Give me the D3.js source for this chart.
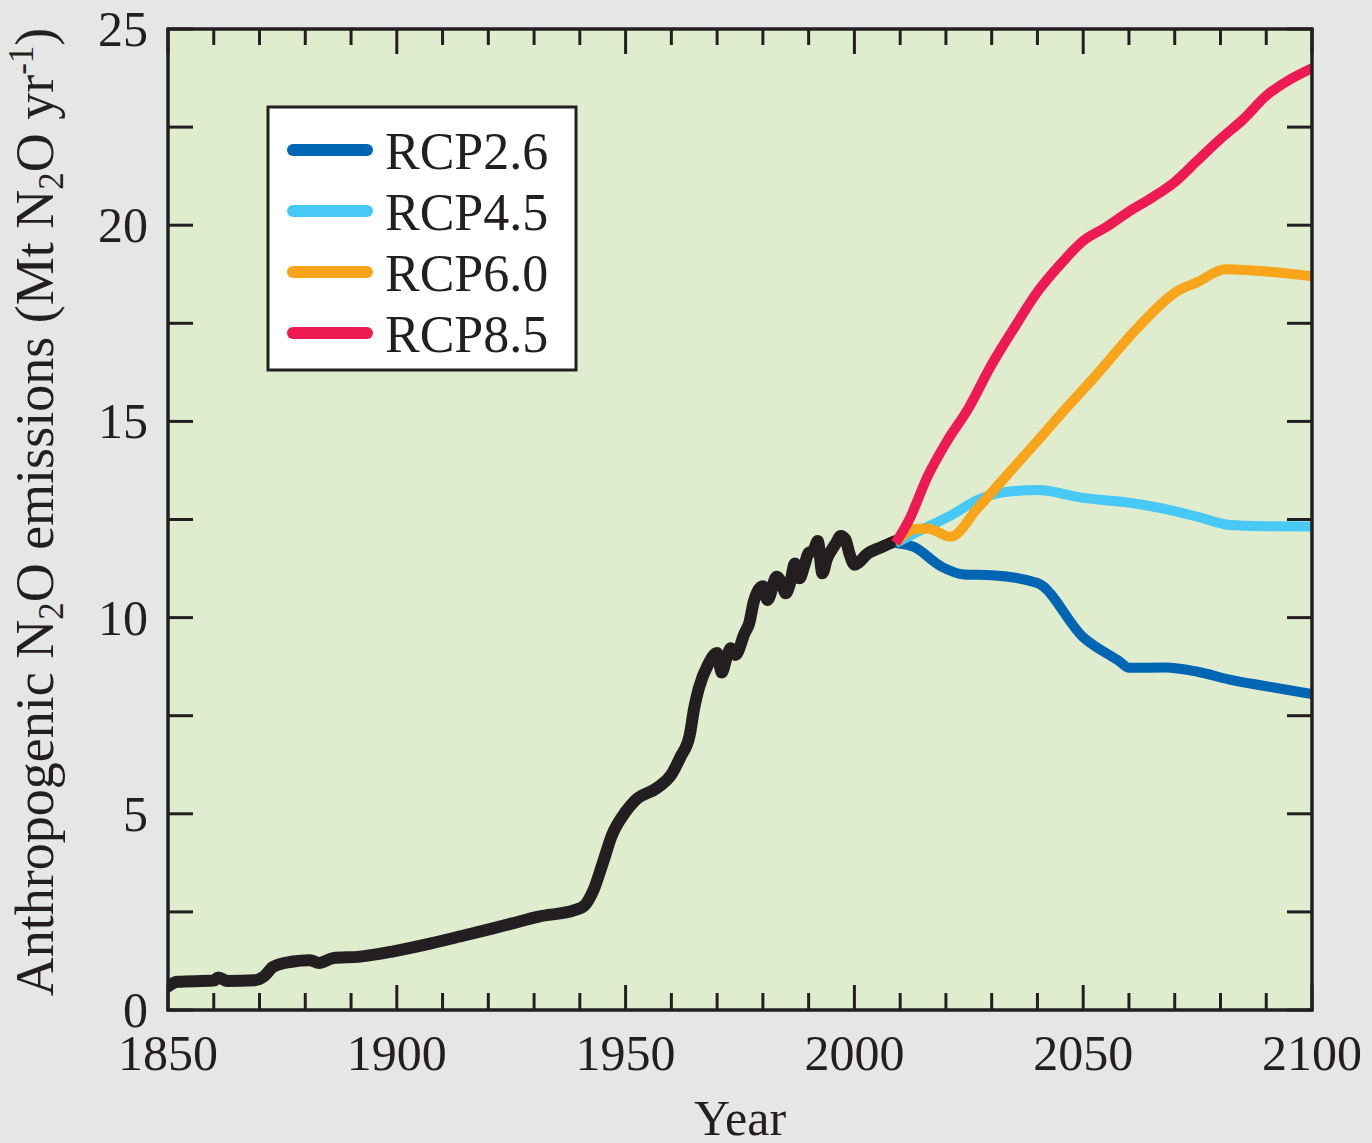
<!DOCTYPE html>
<html>
<head>
<meta charset="utf-8">
<script src="https://cdn.jsdelivr.net/npm/d3@7"></script>
<style>
  body { margin: 0; background: #e6e6e6; }
  svg { display: block; }
  text { font-family: "Liberation Serif", "Times New Roman", serif; fill: #231f20; }
</style>
</head>
<body>
<svg width="1372" height="1143"></svg>
<script>
// historical emissions (black line)
var histYears = [1850, 1852, 1860, 1861, 1863, 1869, 1871, 1873, 1877, 1881, 1883, 1886, 1892, 1899,
  1906, 1914, 1921, 1925, 1931, 1939, 1941, 1943, 1945, 1947, 1950, 1952, 1957, 1960, 1962, 1964,
  1965, 1966, 1968, 1970, 1971, 1972, 1973, 1974, 1976, 1977, 1978, 1979, 1980, 1981, 1983, 1984,
  1985, 1986, 1987, 1988, 1989, 1990, 1991, 1992, 1993, 1994, 1995, 1996, 1997, 1998, 1999, 2000,
  2003, 2006, 2009];
var histValues = [0.6, 0.72, 0.75, 0.83, 0.74, 0.76, 0.86, 1.1, 1.23, 1.27, 1.2, 1.32, 1.36, 1.49,
  1.66, 1.88, 2.08, 2.2, 2.38, 2.55, 2.66, 3.06, 3.74, 4.45, 5.05, 5.33, 5.67, 6.0, 6.45, 7.0,
  7.7, 8.2, 8.8, 9.1, 8.6, 8.95, 9.22, 9.05, 9.6, 9.85, 10.4, 10.7, 10.8, 10.45, 11.04, 10.9,
  10.62, 10.9, 11.38, 11.0, 11.3, 11.65, 11.7, 11.95, 11.13, 11.5, 11.72, 11.9, 12.08, 12.0, 11.6, 11.35,
  11.64, 11.8, 11.95];

// scenarios
var rcp26Years = [2009, 2013, 2019, 2024, 2030, 2040, 2050, 2058, 2060, 2068, 2075, 2082, 2090, 2100];
var rcp26Values = [11.9, 11.8, 11.3, 11.1, 11.08, 10.88, 9.5, 8.88, 8.72, 8.73, 8.62, 8.42, 8.25, 8.05];

var rcp45Years = [2009, 2014, 2021, 2027, 2033, 2040, 2050, 2060, 2067, 2075, 2082, 2090, 2100];
var rcp45Values = [11.9, 12.2, 12.6, 13.0, 13.2, 13.25, 13.05, 12.93, 12.79, 12.57, 12.36, 12.33, 12.32];

var rcp60Years = [2009, 2013, 2016, 2021, 2027, 2035, 2040, 2046, 2053, 2062, 2071, 2075, 2081, 2090, 2100];
var rcp60Values = [11.9, 12.25, 12.27, 12.06, 12.8, 13.85, 14.5, 15.3, 16.2, 17.4, 18.35, 18.55, 18.88, 18.82, 18.7];

var rcp85Years = [2009, 2012, 2016, 2020, 2025, 2030, 2035, 2040, 2045, 2050, 2055, 2060, 2065, 2070,
  2075, 2080, 2085, 2090, 2095, 2100];
var rcp85Values = [11.9, 12.5, 13.6, 14.45, 15.35, 16.45, 17.4, 18.3, 19.0, 19.6, 19.95, 20.35, 20.7, 21.1,
  21.65, 22.2, 22.7, 23.3, 23.7, 24.0];

var scenarioNames = ["RCP2.6", "RCP4.5", "RCP6.0", "RCP8.5"];
var scenarioColors = ["#0066b3", "#47c8f5", "#f8a51c", "#ed1a53"];

var xTickLabels = [1850, 1900, 1950, 2000, 2050, 2100];
var yTickLabels = [0, 5, 10, 15, 20, 25];

var svg = d3.select("svg"),
    margin = {left: 168, right: 60, top: 29, bottom: 133},
    width = +svg.attr("width") - margin.left - margin.right,
    height = +svg.attr("height") - margin.top - margin.bottom;

var x = d3.scaleLinear().domain([1850, 2100]).range([0, width]);
var y = d3.scaleLinear().domain([0, 25]).range([height, 0]);

var g = svg.append("g")
    .attr("transform", "translate(" + margin.left + "," + margin.top + ")");

g.append("rect")
    .attr("width", width)
    .attr("height", height)
    .attr("fill", "#dfecce");

g.append("clipPath").attr("id", "plot")
  .append("rect")
    .attr("width", width)
    .attr("height", height);

// ticks all round the frame
var minorYears = d3.range(1850, 2101, 10);
var yTicks = d3.range(0, 25.01, 2.5);
var tickColor = "#231f20";

function isMajor(d) { return d % 50 == 0; }

g.append("g").selectAll("line")
    .data(minorYears)
    .enter().append("line")
    .attr("x1", function(d) { return x(d); })
    .attr("x2", function(d) { return x(d); })
    .attr("y1", height)
    .attr("y2", function(d) { return height - (isMajor(d) ? 25 : 17); })
    .attr("stroke", tickColor).attr("stroke-width", 3);

g.append("g").selectAll("line")
    .data(minorYears)
    .enter().append("line")
    .attr("x1", function(d) { return x(d); })
    .attr("x2", function(d) { return x(d); })
    .attr("y1", 0)
    .attr("y2", function(d) { return isMajor(d) ? 25 : 16; })
    .attr("stroke", tickColor).attr("stroke-width", 3);

g.append("g").selectAll("line")
    .data(yTicks)
    .enter().append("line")
    .attr("x1", 0)
    .attr("x2", 25)
    .attr("y1", function(d) { return y(d); })
    .attr("y2", function(d) { return y(d); })
    .attr("stroke", tickColor).attr("stroke-width", 3);

g.append("g").selectAll("line")
    .data(yTicks)
    .enter().append("line")
    .attr("x1", width - 25)
    .attr("x2", width)
    .attr("y1", function(d) { return y(d); })
    .attr("y2", function(d) { return y(d); })
    .attr("stroke", tickColor).attr("stroke-width", 3);

// tick labels
g.append("g").selectAll("text")
    .data(xTickLabels)
    .enter().append("text")
    .attr("x", function(d) { return x(d); })
    .attr("y", height + 60)
    .attr("text-anchor", "middle")
    .attr("font-size", 50)
    .text(function(d) { return d; });

g.append("g").selectAll("text")
    .data(yTickLabels)
    .enter().append("text")
    .attr("x", -20)
    .attr("y", function(d) { return y(d); })
    .attr("dy", "0.34em")
    .attr("text-anchor", "end")
    .attr("font-size", 50)
    .text(function(d) { return d; });

// lines
var line = d3.line()
    .x(function(d) { return x(d[0]); })
    .y(function(d) { return y(d[1]); })
    .curve(d3.curveMonotoneX);

var lines = g.append("g").attr("clip-path", "url(#plot)");

lines.append("path")
    .datum(d3.zip(histYears, histValues))
    .attr("fill", "none")
    .attr("stroke", "#231f20")
    .attr("stroke-width", 12)
    .attr("stroke-linecap", "round")
    .attr("stroke-linejoin", "round")
    .attr("d", line);

var scenarios = [
  d3.zip(rcp26Years, rcp26Values),
  d3.zip(rcp45Years, rcp45Values),
  d3.zip(rcp60Years, rcp60Values),
  d3.zip(rcp85Years, rcp85Values)
];

lines.selectAll(".rcp")
    .data(scenarios)
    .enter().append("path")
    .attr("class", "rcp")
    .attr("fill", "none")
    .attr("stroke", function(d, i) { return scenarioColors[i]; })
    .attr("stroke-width", 10)
    .attr("stroke-linejoin", "round")
    .attr("d", line);

// frame
g.append("rect")
    .attr("width", width)
    .attr("height", height)
    .attr("fill", "none")
    .attr("stroke", "#231f20")
    .attr("stroke-width", 3.5);

// legend
var legend = g.append("g").attr("transform", "translate(100,78)");

legend.append("rect")
    .attr("width", 308)
    .attr("height", 263)
    .attr("fill", "#fff")
    .attr("stroke", "#231f20")
    .attr("stroke-width", 3);

var item = legend.selectAll(".item")
    .data(scenarioNames)
    .enter().append("g")
    .attr("class", "item")
    .attr("transform", function(d, i) { return "translate(0," + (43 + i * 61) + ")"; });

item.append("line")
    .attr("x1", 25)
    .attr("x2", 99)
    .attr("stroke", function(d, i) { return scenarioColors[i]; })
    .attr("stroke-width", 12)
    .attr("stroke-linecap", "round");

item.append("text")
    .attr("x", 117)
    .attr("y", 19)
    .attr("font-size", 52)
    .text(function(d) { return d; });

// axis titles
svg.append("text")
    .attr("x", margin.left + width / 2)
    .attr("y", 1135)
    .attr("text-anchor", "middle")
    .attr("font-size", 50)
    .text("Year");

var yTitle = svg.append("text")
    .attr("transform", "translate(53," + 512 + ") rotate(-90)")
    .attr("text-anchor", "middle")
    .attr("font-size", 54);

yTitle.append("tspan").text("Anthropogenic N");
yTitle.append("tspan").attr("font-size", 35).attr("dy", 10).text("2");
yTitle.append("tspan").attr("dy", -10).text("O emissions (Mt N");
yTitle.append("tspan").attr("font-size", 35).attr("dy", 10).text("2");
yTitle.append("tspan").attr("dy", -10).text("O yr");
yTitle.append("tspan").attr("font-size", 35).attr("dy", -20).text("-1");
yTitle.append("tspan").attr("dy", 20).text(")");
</script>
</body>
</html>
